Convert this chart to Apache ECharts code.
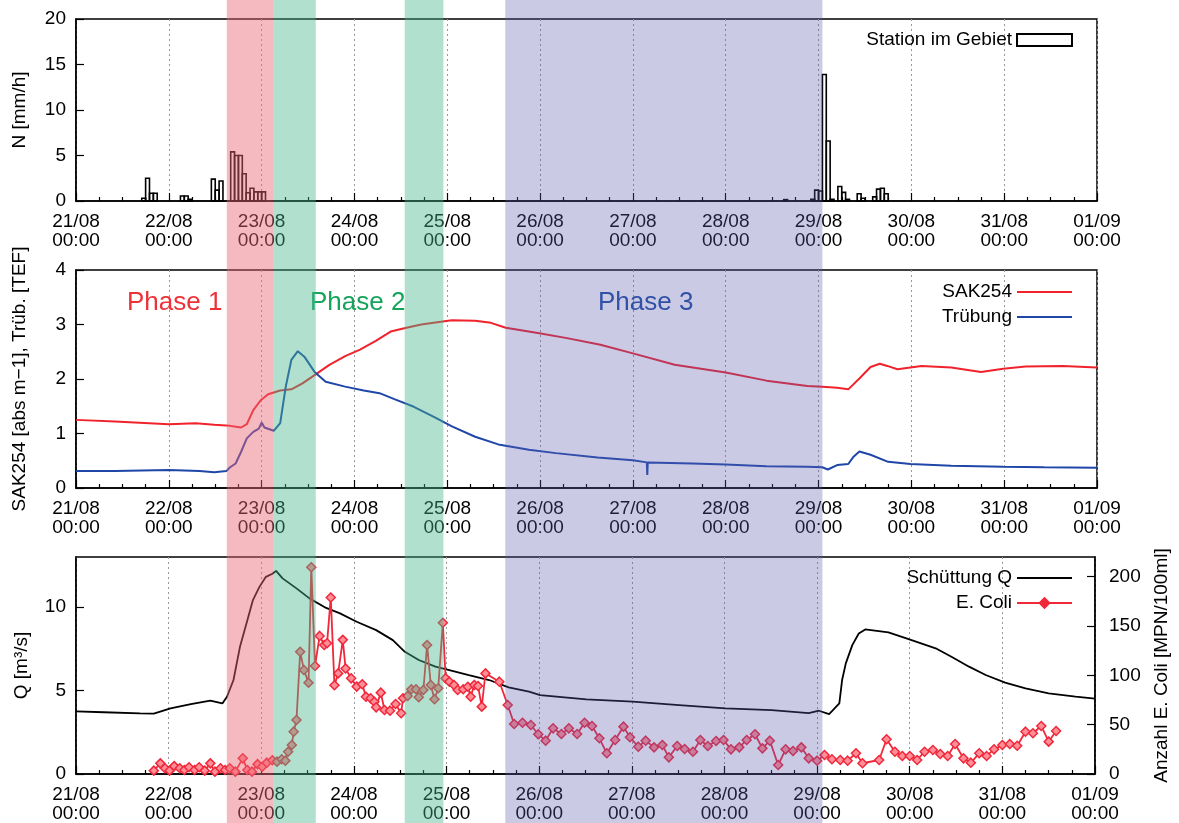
<!DOCTYPE html>
<html>
<head>
<meta charset="utf-8">
<script src="https://cdn.jsdelivr.net/npm/echarts@6/dist/echarts.min.js"></script>
<style>
  html, body { margin: 0; padding: 0; background: #fff; }
  #chart { width: 1179px; height: 823px; }
</style>
</head>
<body>
<div id="chart"></div>
<script>
// Tick labels of the shared time axis (one per day, 21/08 .. 01/09)
const dayLabels = ['21/08\n00:00', '22/08\n00:00', '23/08\n00:00', '24/08\n00:00', '25/08\n00:00',
  '26/08\n00:00', '27/08\n00:00', '28/08\n00:00', '29/08\n00:00', '30/08\n00:00', '31/08\n00:00', '01/09\n00:00'];

// Hourly precipitation: start hour after 21/08 00:00 and intensity in mm/h
const rainHour = [17, 18, 19, 20, 27, 28, 29, 35, 36, 37, 40, 41, 42, 43, 44, 45, 46, 47, 48,
  183, 190, 191, 192, 193, 194, 195, 197, 198, 199, 202, 203, 206, 207, 208, 209];
const rainMm = [0.3, 2.5, 0.85, 0.85, 0.55, 0.55, 0.2, 2.4, 1.2, 2.2, 5.4, 5.0, 5.0, 3.0, 0.9, 1.4, 1.0, 1.0, 1.0,
  0.15, 0.2, 1.2, 1.1, 13.9, 6.6, 0.2, 1.6, 0.95, 0.2, 0.8, 0.3, 0.45, 1.3, 1.4, 0.8];

// SAK254 [abs m-1] — [days after 21/08 00:00, value]
const sak254 = [[0, 1.25], [0.42, 1.22], [1.0, 1.17], [1.29, 1.19], [1.49, 1.16], [1.66, 1.14], [1.78, 1.11],
  [1.84, 1.17], [1.91, 1.43], [1.99, 1.61], [2.07, 1.72], [2.20, 1.79], [2.32, 1.81], [2.44, 1.92], [2.57, 2.07],
  [2.73, 2.26], [2.90, 2.42], [3.06, 2.54], [3.23, 2.70], [3.39, 2.87], [3.56, 2.94], [3.72, 3.00], [3.93, 3.05],
  [4.05, 3.08], [4.30, 3.07], [4.47, 3.03], [4.63, 2.94], [4.96, 2.85], [5.29, 2.75], [5.65, 2.63], [6.0, 2.47],
  [6.45, 2.26], [7.0, 2.12], [7.44, 1.97], [7.88, 1.87], [8.04, 1.86], [8.2, 1.84], [8.32, 1.81], [8.44, 2.01],
  [8.56, 2.22], [8.66, 2.28], [8.74, 2.24], [8.85, 2.18], [9.11, 2.24], [9.43, 2.21], [9.75, 2.13], [9.99, 2.19],
  [10.23, 2.23], [10.63, 2.24], [11.0, 2.21]];

// Trübung [TEF]
const turbidity = [[0, 0.31], [0.42, 0.31], [1.0, 0.33], [1.33, 0.31], [1.49, 0.29], [1.62, 0.31], [1.66, 0.38],
  [1.72, 0.45], [1.78, 0.67], [1.84, 0.91], [1.91, 1.03], [1.97, 1.09], [2.0, 1.20], [2.03, 1.11], [2.13, 1.05],
  [2.20, 1.19], [2.26, 1.86], [2.32, 2.35], [2.39, 2.51], [2.46, 2.41], [2.57, 2.13], [2.69, 1.95], [2.90, 1.86],
  [3.10, 1.79], [3.27, 1.74], [3.43, 1.63], [3.64, 1.49], [3.85, 1.31], [4.05, 1.13], [4.30, 0.94], [4.55, 0.80],
  [4.88, 0.70], [5.17, 0.64], [5.62, 0.56], [6.0, 0.51], [6.15, 0.47], [6.155, 0.24], [6.16, 0.47], [6.64, 0.45],
  [7.0, 0.43], [7.44, 0.40], [7.88, 0.39], [8.04, 0.38], [8.1, 0.34], [8.2, 0.42], [8.32, 0.44], [8.38, 0.58],
  [8.44, 0.67], [8.56, 0.61], [8.75, 0.48], [8.99, 0.44], [9.43, 0.41], [9.99, 0.39], [10.43, 0.38], [11.0, 0.37]];

// Schüttung Q [m³/s]
const discharge = [[0, 3.75], [0.3, 3.7], [0.69, 3.63], [0.84, 3.62], [1.02, 3.93], [1.24, 4.19], [1.45, 4.39],
  [1.58, 4.23], [1.63, 4.63], [1.70, 5.63], [1.77, 7.62], [1.84, 9.02], [1.91, 10.42], [1.98, 11.21], [2.05, 11.81],
  [2.12, 12.0], [2.16, 12.17], [2.23, 11.72], [2.38, 11.12], [2.52, 10.52], [2.70, 9.95], [2.85, 9.62], [3.03, 9.12],
  [3.24, 8.62], [3.42, 8.02], [3.55, 7.32], [3.70, 6.83], [3.88, 6.43], [4.03, 6.23], [4.24, 5.93], [4.46, 5.63],
  [4.67, 5.19], [4.89, 4.93], [5.01, 4.73], [5.51, 4.47], [6.01, 4.33], [6.51, 4.13], [7.01, 3.93], [7.51, 3.83],
  [7.91, 3.65], [8.02, 3.79], [8.13, 3.59], [8.24, 4.23], [8.27, 5.63], [8.31, 6.63], [8.38, 7.72], [8.45, 8.42],
  [8.52, 8.66], [8.77, 8.48], [9.02, 8.02], [9.28, 7.53], [9.46, 6.99], [9.64, 6.43], [9.82, 5.93], [10.03, 5.47],
  [10.25, 5.13], [10.50, 4.83], [10.79, 4.63], [11.0, 4.51]];

// E. Coli [MPN/100ml]
const ecoli = [[0.84, 3.4], [0.91, 10.8], [0.96, 5.8], [1.01, 3.4], [1.06, 8], [1.12, 5.8], [1.17, 4], [1.22, 6.8],
  [1.28, 4], [1.33, 6.8], [1.39, 3.4], [1.45, 10.8], [1.50, 2.4], [1.56, 5.8], [1.61, 4], [1.66, 5.8], [1.72, 2.4],
  [1.80, 15.9], [1.85, 4], [1.90, 2.4], [1.96, 10], [2.01, 7.4], [2.06, 11.5], [2.12, 14], [2.17, 12.5], [2.22, 14.9],
  [2.26, 13.5], [2.29, 22.6], [2.33, 29.4], [2.35, 42.9], [2.38, 54.8], [2.42, 124], [2.46, 105.5], [2.51, 92.6],
  [2.54, 209.6], [2.58, 109.5], [2.63, 140], [2.68, 130.8], [2.71, 132.5], [2.75, 179], [2.79, 90], [2.83, 102],
  [2.88, 136], [2.91, 107], [2.97, 97], [3.03, 88.6], [3.09, 91], [3.13, 78.4], [3.18, 76.8], [3.22, 73.3],
  [3.24, 67.6], [3.29, 82.5], [3.33, 64.9], [3.39, 64.2], [3.45, 71], [3.51, 61.6], [3.53, 76.8], [3.58, 79.1],
  [3.62, 85.9], [3.67, 85.9], [3.70, 77.8], [3.75, 85.2], [3.79, 130.8], [3.83, 90.3], [3.87, 75.8], [3.91, 86.9],
  [3.96, 153.4], [3.99, 97], [4.03, 93.6], [4.08, 90.3], [4.12, 85.2], [4.18, 85.9], [4.23, 88.5], [4.26, 78.4],
  [4.30, 90.3], [4.34, 89.2], [4.38, 68.3], [4.42, 102], [4.57, 93.6], [4.66, 70], [4.73, 50.7], [4.82, 52],
  [4.91, 49.7], [4.99, 40.3], [5.07, 33.8], [5.15, 46.3], [5.24, 40.6], [5.32, 46.3], [5.41, 40.6], [5.49, 52],
  [5.57, 48.7], [5.65, 36.2], [5.73, 21], [5.82, 34.5], [5.91, 48], [5.98, 37.2], [6.07, 27.7], [6.15, 33.8],
  [6.24, 27], [6.33, 29.4], [6.40, 16.9], [6.49, 28.4], [6.57, 25.4], [6.66, 22.6], [6.74, 34.5], [6.82, 28.4],
  [6.91, 33.5], [6.99, 34.5], [7.07, 25], [7.16, 27], [7.24, 34.5], [7.33, 40.3], [7.41, 26], [7.49, 33.8],
  [7.58, 9.1], [7.66, 25], [7.74, 23.3], [7.83, 27], [7.91, 15.9], [8.00, 13.5], [8.08, 19.3], [8.16, 14.9],
  [8.25, 14.2], [8.33, 13.5], [8.42, 21], [8.49, 10.9], [8.67, 14.2], [8.75, 35.2], [8.84, 22.6], [8.92, 18.3],
  [9.00, 18.3], [9.08, 14.2], [9.16, 22.6], [9.25, 24.3], [9.33, 20.3], [9.41, 18.3], [9.49, 30.4], [9.58, 15.9],
  [9.66, 11.5], [9.75, 21], [9.83, 18.3], [9.91, 25], [10.0, 29.4], [10.08, 30.4], [10.16, 28.7], [10.25, 42.9],
  [10.33, 41.3], [10.42, 48.7], [10.50, 32.8], [10.58, 43.6]];

// Phase intervals in days after 21/08 00:00
const phaseBands = [[1.625, 2.125], [2.125, 2.5833], [3.5417, 3.9583], [4.625, 8.0417]];
const bandColors = ['rgba(232,100,115,0.45)', 'rgba(70,180,140,0.42)', 'rgba(70,180,140,0.42)', 'rgba(90,90,175,0.32)'];

const FONT = 'Liberation Sans, Arial, Helvetica, sans-serif';
const FS = 19;

function timeAxis(gridIndex) {
  return {
    type: 'value', gridIndex, min: 0, max: 11, interval: 1,
    axisLine: { show: true, lineStyle: { color: '#000', width: 1.5 } },
    axisTick: { show: true, inside: true, length: 8, lineStyle: { color: '#000', width: 1.2 } },
    minorTick: { show: true, splitNumber: 4, length: 4, lineStyle: { color: '#000', width: 1.2 } },
    axisLabel: {
      color: '#000', fontFamily: FONT, fontSize: FS, lineHeight: 19, margin: 11,
      formatter: v => dayLabels[Math.round(v)]
    },
    splitLine: { show: true, lineStyle: { color: '#999', type: [2, 3], width: 1 } }
  };
}

function valueAxis(gridIndex, opts) {
  return Object.assign({
    type: 'value', gridIndex,
    axisLine: { show: true, lineStyle: { color: '#000', width: 1.5 } },
    axisTick: { show: true, inside: true, length: 8, lineStyle: { color: '#000', width: 1.2 } },
    axisLabel: { color: '#000', fontFamily: FONT, fontSize: FS, margin: 10 },
    splitLine: { show: false },
    nameLocation: 'middle', nameRotate: 90,
    nameTextStyle: { color: '#000', fontFamily: FONT, fontSize: FS }
  }, opts);
}

const legendBase = {
  orient: 'vertical', align: 'right', right: 106, padding: 0,
  itemWidth: 55, itemHeight: 12, itemGap: 5,
  textStyle: { color: '#000', fontFamily: FONT, fontSize: FS, lineHeight: 20 }
};

// legend entries for plain lines: hide the marker, keep the stroke
const plainLine = name => ({ name, itemStyle: { opacity: 0 } });

const chart = echarts.init(document.getElementById('chart'), null, { renderer: 'canvas' });

chart.setOption({
  animation: false,
  backgroundColor: '#fff',
  grid: [
    { left: 76, right: 82, top: 19, height: 182, show: true, borderColor: '#000', borderWidth: 1.5, backgroundColor: 'transparent' },
    { left: 76, right: 82, top: 270, height: 218, show: true, borderColor: '#000', borderWidth: 1.5, backgroundColor: 'transparent' },
    { left: 76, right: 82, top: 557, height: 217, show: true, borderColor: '#000', borderWidth: 1.5, backgroundColor: 'transparent' }
  ],
  xAxis: [timeAxis(0), timeAxis(1), timeAxis(2)],
  yAxis: [
    valueAxis(0, { min: 0, max: 20, interval: 5, name: 'N [mm/h]', nameGap: 47 }),
    valueAxis(1, { min: 0, max: 4, interval: 1, name: 'SAK254 [abs m\u22121], Tr\u00fcb. [TEF]', nameGap: 47 }),
    valueAxis(2, { min: 0, max: 13, interval: 5, name: 'Q [m\u00b3/s]', nameGap: 45,
      axisLabel: { color: '#000', fontFamily: FONT, fontSize: FS, margin: 10, showMaxLabel: false } }),
    valueAxis(2, { min: 0, max: 220, interval: 50, position: 'right', name: 'Anzahl E. Coli [MPN/100ml]', nameGap: 57,
      axisLabel: { color: '#000', fontFamily: FONT, fontSize: FS, margin: 14, showMaxLabel: false } })
  ],
  legend: [
    Object.assign({}, legendBase, {
      top: 30,
      data: [{ name: 'Station im Gebiet', icon: 'rect', itemStyle: { color: '#fff', borderColor: '#000', borderWidth: 2 } }]
    }),
    Object.assign({}, legendBase, { top: 282, data: [plainLine('SAK254'), plainLine('Tr\u00fcbung')] }),
    Object.assign({}, legendBase, { top: 568, data: [plainLine('Sch\u00fcttung Q'),
      { name: 'E. Coli', itemStyle: { color: '#f0283a', borderColor: '#f0283a' } }] })
  ],
  series: [
    {
      name: 'Station im Gebiet', type: 'custom', xAxisIndex: 0, yAxisIndex: 0,
      itemStyle: { color: '#fff', borderColor: '#000', borderWidth: 2 },
      encode: { x: 0, y: 1 },
      data: rainHour.map((h, i) => [h / 24, rainMm[i]]),
      renderItem: (params, api) => {
        const start = api.value(0);
        const top = api.coord([start, api.value(1)]);
        const base = api.coord([start + 1 / 24, 0]);
        return {
          type: 'rect',
          shape: { x: top[0], y: top[1], width: base[0] - top[0], height: base[1] - top[1] },
          style: { fill: 'none', stroke: '#000', lineWidth: 1.6 }
        };
      }
    },
    {
      name: 'SAK254', type: 'line', xAxisIndex: 1, yAxisIndex: 1, symbol: 'none',
      lineStyle: { color: '#f0232d', width: 2 }, itemStyle: { color: '#f0232d' }, data: sak254
    },
    {
      name: 'Tr\u00fcbung', type: 'line', xAxisIndex: 1, yAxisIndex: 1, symbol: 'none',
      lineStyle: { color: '#1f47a8', width: 2 }, itemStyle: { color: '#1f47a8' }, data: turbidity
    },
    {
      name: 'Sch\u00fcttung Q', type: 'line', xAxisIndex: 2, yAxisIndex: 2, symbol: 'none',
      lineStyle: { color: '#000', width: 1.8 }, itemStyle: { color: '#000' }, data: discharge
    },
    {
      name: 'E. Coli', type: 'line', xAxisIndex: 2, yAxisIndex: 3,
      symbol: 'diamond', symbolSize: 9, showSymbol: true,
      lineStyle: { color: '#f0283a', width: 1.8 },
      itemStyle: { color: '#ff8e98', borderColor: '#f0283a', borderWidth: 1.5 },
      data: ecoli
    }
  ]
});

// Phase shading spans the full figure height, placed via the time axis scale
const bandRects = phaseBands.map((b, i) => {
  const x0 = chart.convertToPixel({ xAxisIndex: 0 }, b[0]);
  const x1 = chart.convertToPixel({ xAxisIndex: 0 }, b[1]);
  return {
    type: 'rect', z: 100, silent: true,
    shape: { x: x0, y: 0, width: x1 - x0, height: 823 },
    style: { fill: bandColors[i] }
  };
});

const phaseText = (text, x, color) => ({
  type: 'text', z: 50, silent: true, left: x, top: 290,
  style: { text, fill: color, font: '26px ' + FONT }
});

chart.setOption({
  graphic: [
    phaseText('Phase 1', 127, '#ec3138'),
    phaseText('Phase 2', 310, '#16a35a'),
    phaseText('Phase 3', 598, '#1d4da3')
  ].concat(bandRects)
});
</script>
</body>
</html>
